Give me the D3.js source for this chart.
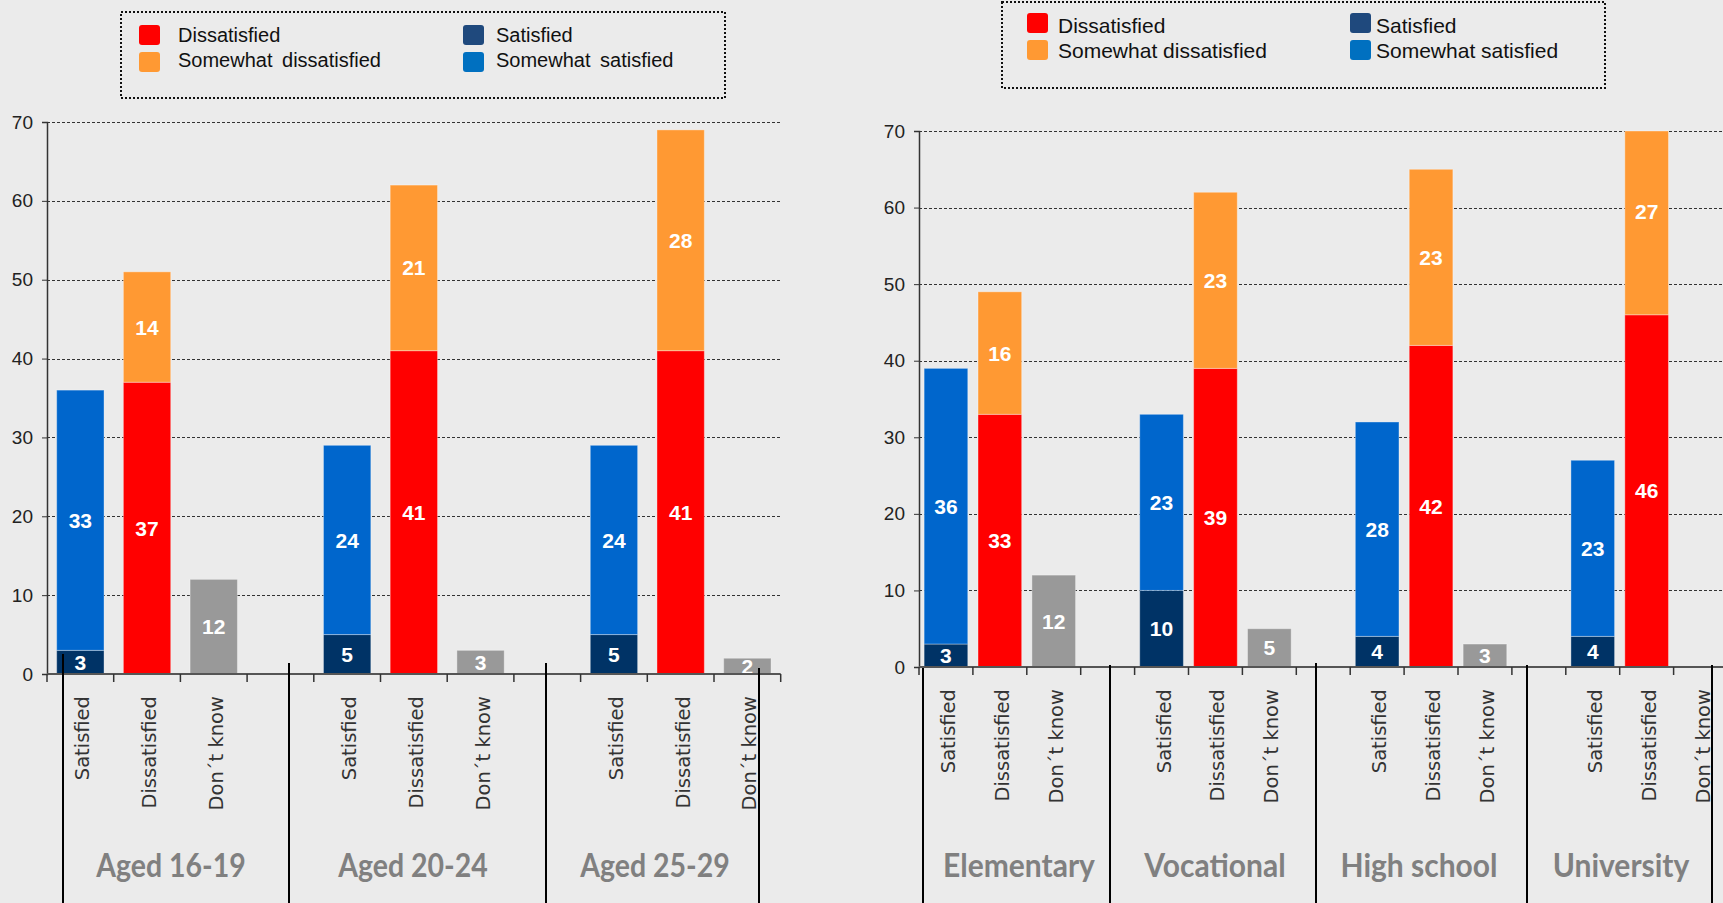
<!DOCTYPE html>
<html>
<head>
<meta charset="utf-8">
<script src="https://cdn.jsdelivr.net/npm/d3@7"></script>
<style>
  html, body { margin: 0; padding: 0; background: #EBEBEB; overflow: hidden; }
  svg { display: block; }
</style>
</head>
<body>
<svg id="chart" width="1723" height="903"></svg>
<script>
// ---------- DATA ----------
const answers = ["Satisfied", "Dissatisfied", "Don´t know"];
const legendLabels = ["Dissatisfied", "Somewhat dissatisfied", "Satisfied", "Somewhat satisfied"];
const yTicks = [0, 10, 20, 30, 40, 50, 60, 70];

const leftGroups = ["Aged 16-19", "Aged 20-24", "Aged 25-29"];
const leftSatisfied = [3, 5, 5];
const leftSomewhatSatisfied = [33, 24, 24];
const leftDissatisfied = [37, 41, 41];
const leftSomewhatDissatisfied = [14, 21, 28];
const leftDontKnow = [12, 3, 2];

const rightGroups = ["Elementary", "Vocational", "High school", "University"];
const rightSatisfied = [3, 10, 4, 4];
const rightSomewhatSatisfied = [36, 23, 28, 23];
const rightDissatisfied = [33, 39, 42, 46];
const rightSomewhatDissatisfied = [16, 23, 23, 27];
const rightDontKnow = [12, 5, 3, null];

// ---------- STYLE ----------
const C = {
  sat: "#003366", somSat: "#0066CC", dis: "#FF0000", somDis: "#FF9933", dk: "#999999",
  legSat: "#1F497D", legSomSat: "#0070C0"
};
const legendColors = [C.dis, C.somDis, C.legSat, C.legSomSat];

const svg = d3.select("#chart");

function drawPanel(cfg) {
  const g = svg.append("g");
  const {groups, sat, somSat, dis, somDis, dk} = cfg;

  const cats = [];
  groups.forEach((grp, gi) => {
    answers.forEach(a => cats.push(grp + "|" + a));
    if (gi < groups.length - 1) cats.push(grp + "|_gap");
  });

  const x = d3.scaleBand().domain(cats)
    .range([cfg.x0, cfg.x0 + cats.length * cfg.step])
    .paddingInner(cfg.pad).paddingOuter(cfg.pad / 2);
  const y = d3.scaleLinear().domain([0, 70]).range([cfg.yBottom, cfg.yTop]).clamp(true);
  const yFree = y.copy().clamp(false);

  // gridlines
  g.append("g").selectAll("line").data(yTicks.filter(t => t > 0)).join("line")
    .attr("x1", cfg.x0).attr("x2", cfg.gridEnd)
    .attr("y1", d => Math.round(y(d)) + 0.5).attr("y2", d => Math.round(y(d)) + 0.5)
    .attr("stroke", "#333").attr("stroke-width", 1).attr("stroke-dasharray", "3,2");

  const segs = [];
  groups.forEach((grp, i) => {
    segs.push({cat: grp + "|Satisfied", lo: 0, hi: sat[i], color: C.sat, v: sat[i]});
    segs.push({cat: grp + "|Satisfied", lo: sat[i], hi: sat[i] + somSat[i], color: C.somSat, v: somSat[i]});
    segs.push({cat: grp + "|Dissatisfied", lo: 0, hi: dis[i], color: C.dis, v: dis[i]});
    segs.push({cat: grp + "|Dissatisfied", lo: dis[i], hi: dis[i] + somDis[i], color: C.somDis, v: somDis[i]});
    if (dk[i] != null) segs.push({cat: grp + "|Don´t know", lo: 0, hi: dk[i], color: C.dk, v: dk[i]});
  });

  g.append("g").selectAll("rect").data(segs).join("rect")
    .attr("x", d => x(d.cat))
    .attr("width", x.bandwidth())
    .attr("y", d => y(d.hi))
    .attr("height", d => y(d.lo) - y(d.hi))
    .attr("fill", d => d.color)
    .attr("stroke", "rgba(255,255,255,0.35)").attr("stroke-width", 1);

  g.append("g").selectAll("text").data(segs).join("text")
    .attr("x", d => x(d.cat) + x.bandwidth() / 2)
    .attr("y", d => yFree((d.lo + d.hi) / 2))
    .attr("dy", "0.36em")
    .attr("text-anchor", "middle")
    .attr("font-family", "'Liberation Sans', Arial, sans-serif")
    .attr("font-weight", "bold").attr("font-size", 21)
    .attr("fill", "#fff")
    .text(d => d.v);

  // y axis
  const yAxis = d3.axisLeft(y).tickValues(yTicks).tickSize(5).tickPadding(9);
  const ya = g.append("g").attr("transform", `translate(${cfg.x0},0)`).call(yAxis);
  ya.select(".domain").attr("stroke", "#333").attr("stroke-width", 1.5);
  ya.selectAll(".tick line").attr("stroke", "#333");
  ya.selectAll("text").attr("font-family", "'Liberation Sans', Arial, sans-serif")
    .attr("font-size", 19).attr("fill", "#222");

  // x axis line and ticks at band boundaries
  const xEnd = cfg.x0 + cats.length * cfg.step;
  g.append("line").attr("x1", cfg.x0).attr("x2", xEnd)
    .attr("y1", cfg.yBottom).attr("y2", cfg.yBottom)
    .attr("stroke", "#555").attr("stroke-width", 2);
  g.append("g").selectAll("line").data(d3.range(cats.length + 1)).join("line")
    .attr("x1", i => cfg.x0 + i * x.step()).attr("x2", i => cfg.x0 + i * x.step())
    .attr("y1", cfg.yBottom).attr("y2", cfg.yBottom + 8)
    .attr("stroke", "#333").attr("stroke-width", 1.5);

  // rotated category labels
  g.append("g").selectAll("text").data(cats.filter(c => !c.endsWith("_gap"))).join("text")
    .attr("transform", c => `translate(${x(c) + x.bandwidth() / 2 + 2},${cfg.yBottom + 22}) rotate(-90)`)
    .attr("dy", "0.36em")
    .attr("text-anchor", "end")
    .attr("font-family", "'DejaVu Sans', Verdana, sans-serif")
    .attr("font-size", 19.5).attr("fill", "#333")
    .text(c => c.split("|")[1]);

  // group labels
  g.append("g").selectAll("text").data(groups).join("text")
    .attr("transform", (grp, i) => `translate(${cfg.labelCenters[i]},${cfg.labelBaseline}) scale(${cfg.labelScaleX},1.08)`)
    .attr("text-anchor", "middle")
    .attr("font-family", "Lato, 'Open Sans', sans-serif")
    .attr("font-weight", "bold").attr("font-size", 30)
    .attr("fill", "#808080")
    .text(d => d);

  // group separator lines
  g.append("g").selectAll("line").data(cfg.separators).join("line")
    .attr("x1", d => d[0]).attr("x2", d => d[0])
    .attr("y1", d => d[1]).attr("y2", 903)
    .attr("stroke", "#000").attr("stroke-width", 2);

  // legend
  const L = cfg.legend;
  svg.append("rect").attr("x", L.x).attr("y", L.y).attr("width", L.w).attr("height", L.h)
    .attr("fill", "none").attr("stroke", "#111").attr("stroke-width", 2).attr("stroke-dasharray", "2,2");
  const lg = svg.append("g");
  legendLabels.forEach((lab, i) => {
    const col = Math.floor(i / 2), row = i % 2;
    lg.append("rect").attr("x", L.colX[col]).attr("y", L.rowY[row]).attr("width", 21).attr("height", 20)
      .attr("rx", 3).attr("fill", legendColors[i]);
    lg.append("text").attr("x", L.textX[col]).attr("y", L.baseY[row])
      .attr("font-family", "'Liberation Sans', Arial, sans-serif")
      .attr("font-size", L.fs).attr("fill", "#111")
      .attr("word-spacing", L.ws)
      .text(lab);
  });
}

drawPanel({
  groups: leftGroups, sat: leftSatisfied, somSat: leftSomewhatSatisfied,
  dis: leftDissatisfied, somDis: leftSomewhatDissatisfied, dk: leftDontKnow,
  x0: 47, step: 66.7, pad: 0.29, yTop: 122, yBottom: 674, gridEnd: 781,
  labelCenters: [171, 413, 655], labelBaseline: 877, labelScaleX: 0.95,
  separators: [[63, 654], [289, 663], [546, 663], [759, 668]],
  legend: {x: 121, y: 12, w: 604, h: 86, colX: [139, 463], rowY: [25, 52],
           textX: [178, 496], baseY: [42, 67], fs: 20, ws: 4}
});

drawPanel({
  groups: rightGroups, sat: rightSatisfied, somSat: rightSomewhatSatisfied,
  dis: rightDissatisfied, somDis: rightSomewhatDissatisfied, dk: rightDontKnow,
  x0: 919, step: 53.9, pad: 0.19, yTop: 131, yBottom: 667, gridEnd: 1723,
  labelCenters: [1019, 1215, 1419, 1621], labelBaseline: 877, labelScaleX: 1,
  separators: [[923, 668], [1110, 665], [1316, 663], [1527, 665], [1712, 665]],
  legend: {x: 1002, y: 2, w: 603, h: 86, colX: [1027, 1350], rowY: [13, 40],
           textX: [1058, 1376], baseY: [33, 58], fs: 21, ws: 0}
});
</script>
</body>
</html>
